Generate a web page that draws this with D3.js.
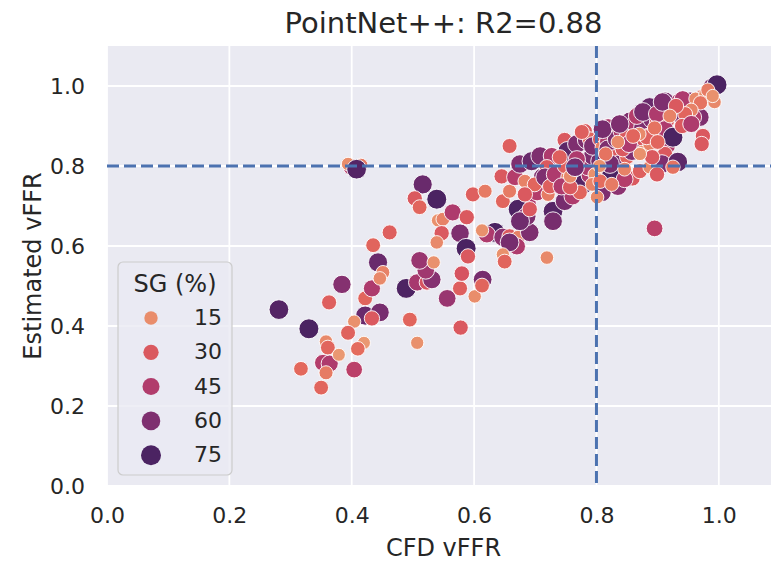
<!DOCTYPE html>
<html>
<head>
<meta charset="utf-8">
<script src="https://cdn.jsdelivr.net/npm/d3@7"></script>
<style>
  body { margin: 0; background: #fff; }
  text { font-family: "DejaVu Sans", sans-serif; fill: #262626; }
</style>
</head>
<body>
<div id="chart-area"></div>
<script>
// data: [CFD vFFR, estimated vFFR, SG %]
const lowerTail = [
  [0.281,0.441,72],[0.330,0.393,75],[0.363,0.459,28],[0.384,0.504,58],[0.422,0.469,26],
  [0.433,0.494,46],[0.422,0.426,66],[0.446,0.434,62],[0.433,0.419,30],[0.404,0.411,14],
  [0.394,0.383,27],[0.420,0.358,12],[0.410,0.343,24],[0.358,0.361,16],[0.361,0.346,26],
  [0.353,0.308,44],[0.364,0.306,46],[0.358,0.283,20],[0.379,0.328,12],[0.317,0.293,25],
  [0.404,0.291,42],[0.350,0.246,26],[0.507,0.358,14],[0.495,0.416,26],[0.489,0.494,74],
  [0.507,0.509,48],[0.523,0.509,32],[0.531,0.516,58],[0.521,0.539,50],[0.511,0.564,52],
  [0.534,0.559,14],[0.556,0.469,52],[0.578,0.396,30],[0.577,0.494,28],[0.601,0.474,15],
  [0.614,0.516,62],[0.613,0.501,26],[0.580,0.531,32],[0.443,0.559,66],[0.451,0.534,18],
  [0.446,0.519,16],[0.435,0.602,26],[0.462,0.634,28]
];

const midBand = [
  [0.541,0.664,14],[0.549,0.667,18],[0.547,0.632,30],[0.539,0.609,16],[0.565,0.684,46],
  [0.588,0.672,30],[0.577,0.632,60],[0.587,0.594,75],[0.590,0.574,30],[0.516,0.754,66],
  [0.539,0.717,75],[0.503,0.719,30],[0.511,0.697,26],[0.400,0.797,44],[0.394,0.805,15],
  [0.415,0.802,20],[0.408,0.792,72],[0.598,0.729,28],[0.618,0.737,20],[0.647,0.712,26],
  [0.658,0.737,20],[0.645,0.774,30],[0.667,0.772,44],[0.683,0.762,18],[0.658,0.850,28],
  [0.719,0.571,16],[0.634,0.634,75],[0.621,0.629,46],[0.613,0.639,14],[0.647,0.622,56],
  [0.658,0.624,30],[0.672,0.622,18],[0.670,0.599,46],[0.658,0.609,62],[0.647,0.579,14],
  [0.650,0.561,26],[0.688,0.704,46],[0.672,0.692,74],[0.691,0.634,60],[0.712,0.772,60],
  [0.686,0.674,60],[0.675,0.662,64],[0.729,0.687,72],[0.729,0.662,62],[0.703,0.734,44],
  [0.721,0.729,20],[0.748,0.712,62],[0.761,0.724,46],[0.778,0.754,72],[0.809,0.734,60],
  [0.835,0.749,56],[0.859,0.769,30],[0.801,0.722,16],[0.773,0.734,26],[0.895,0.644,42],
  [0.699,0.754,26],[0.683,0.729,30],[0.691,0.692,30]
];

const upperCluster = [
  [0.675,0.805,60],[0.694,0.812,66],[0.708,0.825,60],[0.727,0.825,46],[0.719,0.797,30],
  [0.716,0.772,60],[0.724,0.749,28],[0.732,0.779,46],[0.753,0.772,18],[0.748,0.800,28],
  [0.743,0.749,46],[0.757,0.747,30],[0.748,0.865,30],[0.753,0.837,70],[0.768,0.855,60],
  [0.784,0.865,60],[0.781,0.887,30],[0.789,0.777,46],[0.802,0.792,30],[0.786,0.797,46],
  [0.794,0.825,60],[0.806,0.812,62],[0.810,0.787,26],[0.789,0.867,26],[0.794,0.850,60],
  [0.806,0.867,30],[0.809,0.847,18],[0.819,0.897,46],[0.819,0.862,46],[0.819,0.842,60],
  [0.827,0.887,30],[0.833,0.867,60],[0.830,0.822,30],[0.838,0.805,60],[0.850,0.822,26],
  [0.841,0.887,46],[0.843,0.905,60],[0.850,0.875,30],[0.855,0.912,60],[0.859,0.862,28],
  [0.863,0.905,46],[0.868,0.847,30],[0.858,0.837,60],[0.843,0.842,30],[0.876,0.897,60],
  [0.874,0.835,14],[0.884,0.875,30],[0.887,0.855,18],[0.887,0.947,66],[0.891,0.917,60],
  [0.899,0.910,30],[0.904,0.937,26],[0.912,0.962,60],[0.915,0.912,30],[0.912,0.892,46],
  [0.915,0.850,46],[0.912,0.830,30],[0.907,0.805,60],[0.933,0.810,70],[0.925,0.872,75],
  [0.928,0.942,66],[0.936,0.930,60],[0.936,0.962,46],[0.949,0.955,60],[0.949,0.955,14],
  [0.953,0.962,60],[0.958,0.947,30],[0.964,0.935,46],[0.969,0.922,60],[0.974,0.875,30],
  [0.972,0.855,30],[0.974,0.975,26],[0.985,0.985,30],[0.993,0.960,16],[0.989,0.997,60],
  [0.997,1.003,75],[0.825,0.779,75],[0.846,0.767,44],[0.871,0.787,28],[0.887,0.797,16],
  [0.899,0.779,30],[0.925,0.797,22],[0.882,0.872,28],[0.891,0.822,30],[0.871,0.830,14],
  [0.853,0.855,46],[0.822,0.805,62],[0.757,0.774,16],[0.776,0.885,28],[0.810,0.892,62],
  [0.838,0.905,60],[0.866,0.925,44],[0.876,0.935,62],[0.899,0.930,46],[0.908,0.960,60],
  [0.941,0.967,46],[0.958,0.922,44],[0.797,0.779,14],[0.793,0.754,18],[0.806,0.762,24],
  [0.825,0.754,20],[0.846,0.792,18],[0.740,0.822,28],[0.768,0.817,46],[0.765,0.797,62]
];

const tipCluster = [
  [0.962,0.968,16],[0.978,0.980,14],[0.970,0.958,22],[0.955,0.940,18],[0.945,0.930,26],
  [0.982,0.990,20],[0.990,0.975,14],[0.930,0.950,30],[0.920,0.925,18],[0.895,0.895,22],
  [0.870,0.880,16],[0.860,0.875,26],[0.835,0.860,16],[0.815,0.830,22],[0.805,0.800,14],
  [0.900,0.860,26],[0.940,0.900,30],[0.955,0.905,46]
];

const xTicks = [0.0, 0.2, 0.4, 0.6, 0.8, 1.0];
const yTicks = [0.0, 0.2, 0.4, 0.6, 0.8, 1.0];
const legendSG = [15, 30, 45, 60, 75];
const threshold = 0.8;

// flare palette
const flare = ["#edb081","#e98d6b","#e3685c","#d14a61","#b13c6c","#8f3371","#6c2b6d","#4b2362"];

let margin = {top: 46, left: 107};
let width = 673, height = 440;

let svg = d3.select("#chart-area").append("svg")
    .attr("width", 771)
    .attr("height", 562)
  .append("g")
    .attr("transform", "translate(" + margin.left + "," + margin.top + ")");

let x = d3.scaleLinear().domain([0, 1.1]).range([0, width]);
let y = d3.scaleLinear().domain([0, 1.1]).range([height, 0]);

let color = d3.scaleLinear()
    .domain(flare.map((c, i) => 5 + 70 * i / (flare.length - 1)))
    .range(flare)
    .clamp(true);

let area = d3.scaleLinear().domain([15, 75]).range([45, 100]);
let radius = d => Math.sqrt(area(d));

// background + grid
svg.append("rect")
    .attr("width", width).attr("height", height)
    .attr("fill", "#eaeaf2");

svg.selectAll(".gx").data(xTicks).enter().append("line")
    .attr("x1", d => x(d)).attr("x2", d => x(d))
    .attr("y1", 0).attr("y2", height)
    .attr("stroke", "#fff").attr("stroke-width", 1.8);

svg.selectAll(".gy").data(yTicks).enter().append("line")
    .attr("y1", d => y(d)).attr("y2", d => y(d))
    .attr("x1", 0).attr("x2", width)
    .attr("stroke", "#fff").attr("stroke-width", 1.8);

// axes
let xAxis = d3.axisBottom(x).tickValues(xTicks).tickSize(0).tickPadding(21).tickFormat(d3.format(".1f"));
let yAxis = d3.axisLeft(y).tickValues(yTicks).tickSize(0).tickPadding(22).tickFormat(d3.format(".1f"));

let xg = svg.append("g")
    .attr("transform", "translate(0," + height + ")")
    .call(xAxis);
let yg = svg.append("g").call(yAxis);

[xg, yg].forEach(g => {
  g.select(".domain").remove();
  g.selectAll("text").attr("font-size", 22).attr("font-family", "DejaVu Sans").attr("fill", "#262626");
});

// points
let points = lowerTail.concat(midBand, upperCluster, tipCluster);

svg.selectAll(".dot").data(points).enter().append("circle")
    .attr("class", "dot")
    .attr("cx", d => x(d[0]))
    .attr("cy", d => y(d[1]))
    .attr("r", d => radius(d[2]))
    .attr("fill", d => color(d[2]))
    .attr("stroke", "#fff")
    .attr("stroke-width", 0.9);

// threshold lines
svg.append("line")
    .attr("x1", x(threshold)).attr("x2", x(threshold))
    .attr("y1", 0).attr("y2", height)
    .attr("stroke", "#4c72b0").attr("stroke-width", 3)
    .attr("stroke-dasharray", "12,5");
svg.append("line")
    .attr("x1", 0).attr("x2", width)
    .attr("y1", y(threshold)).attr("y2", y(threshold))
    .attr("stroke", "#4c72b0").attr("stroke-width", 3)
    .attr("stroke-dasharray", "12,5");

// labels
svg.append("text")
    .attr("x", width / 2).attr("y", -13)
    .attr("text-anchor", "middle")
    .attr("font-size", 29)
    .text("PointNet++: R2=0.88");

svg.append("text")
    .attr("x", width / 2).attr("y", height + 70)
    .attr("text-anchor", "middle")
    .attr("font-size", 24)
    .text("CFD vFFR");

svg.append("text")
    .attr("transform", "translate(-66," + (height / 2) + ")rotate(-90)")
    .attr("text-anchor", "middle")
    .attr("font-size", 24)
    .text("Estimated vFFR");

// legend
let lg = svg.append("g").attr("transform", "translate(11,216)");
lg.append("rect")
    .attr("width", 114).attr("height", 213)
    .attr("rx", 5)
    .attr("fill", "#eaeaf2").attr("fill-opacity", 0.8)
    .attr("stroke", "#cccccc").attr("stroke-width", 1.2);
lg.append("text")
    .attr("x", 57).attr("y", 30)
    .attr("text-anchor", "middle")
    .attr("font-size", 24)
    .text("SG (%)");

let rows = lg.selectAll(".row").data(legendSG).enter().append("g")
    .attr("transform", (d, i) => "translate(0," + (56 + i * 34.3) + ")");
rows.append("circle")
    .attr("cx", 33)
    .attr("r", d => radius(d))
    .attr("fill", d => color(d));
rows.append("text")
    .attr("x", 104).attr("y", 7)
    .attr("text-anchor", "end")
    .attr("font-size", 22)
    .text(d => d);
</script>
</body>
</html>
